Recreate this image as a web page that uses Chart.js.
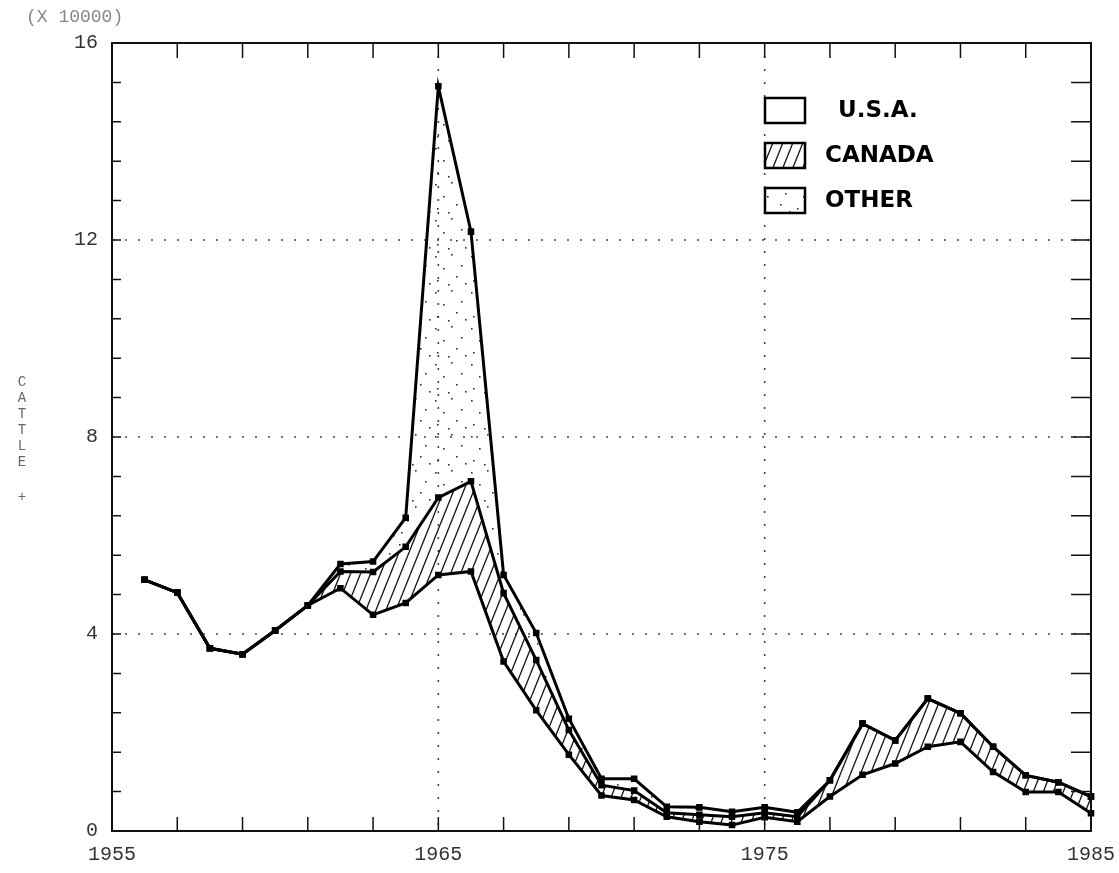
<!DOCTYPE html>
<html>
<head>
<meta charset="utf-8">
<script src="https://cdn.jsdelivr.net/npm/chart.js@4.4.1/dist/chart.umd.min.js"></script>
<style>
  html, body { margin: 0; padding: 0; background: #fff; }
</style>
</head>
<body>
<canvas id="chart" width="1119" height="873"></canvas>
<script>
// values in units of 10000 head
const years  = [1956, 1957, 1958, 1959, 1960, 1961, 1962, 1963, 1964, 1965,
                1966, 1967, 1968, 1969, 1970, 1971, 1972, 1973, 1974, 1975,
                1976, 1977, 1978, 1979, 1980, 1981, 1982, 1983, 1984, 1985];
const usa    = [5.10, 4.84, 3.71, 3.59, 4.07, 4.58, 4.93, 4.39, 4.63, 5.20,
                5.27, 3.44, 2.45, 1.55, 0.72, 0.63, 0.29, 0.19, 0.12, 0.28,
                0.19, 0.70, 1.14, 1.37, 1.71, 1.81, 1.20, 0.79, 0.79, 0.36];
const canada = [0, 0, 0, 0, 0, 0, 0.34, 0.87, 1.14, 1.57,
                1.83, 1.39, 1.02, 0.50, 0.21, 0.19, 0.08, 0.14, 0.17, 0.09,
                0.10, 0.33, 1.04, 0.47, 0.98, 0.58, 0.51, 0.34, 0.20, 0.34];
const other  = [0, 0, 0, 0, 0, 0, 0.15, 0.21, 0.59, 8.35,
                5.07, 0.37, 0.55, 0.23, 0.13, 0.24, 0.12, 0.15, 0.10, 0.11,
                0.09, 0, 0, 0, 0, 0, 0, 0, 0, 0];

const legendNames = ["U.S.A.", "CANADA", "OTHER"];
const yTitle = "CATTLE";
const unitNote = "(X 10000)";

// fill patterns
function hatchPattern() {
  const c = document.createElement("canvas");
  c.width = 10; c.height = 25;
  const g = c.getContext("2d");
  g.strokeStyle = "#111";
  g.lineWidth = 1.3;
  for (let k = -1; k <= 1; k++) {
    g.beginPath();
    g.moveTo(k * 10, 25);
    g.lineTo(k * 10 + 10, 0);
    g.stroke();
  }
  return g.createPattern(c, "repeat");
}
function dotPattern() {
  const c = document.createElement("canvas");
  c.width = 36; c.height = 36;
  const g = c.getContext("2d");
  g.fillStyle = "#333";
  const dots = [[3, 4], [19, 2], [29, 13], [11, 16], [24, 24], [5, 28], [16, 32], [33, 31]];
  dots.forEach(([dx, dy]) => g.fillRect(dx, dy, 1.6, 1.6));
  return g.createPattern(c, "repeat");
}
const hatch = hatchPattern();
const dots = dotPattern();

const toPts = arr => arr.map((v, i) => ({ x: years[i], y: v }));

const lineStyle = {
  borderColor: "#000",
  borderWidth: 3,
  pointStyle: "rect",
  pointRadius: 2.5,
  pointBackgroundColor: "#000",
  pointBorderColor: "#000",
  tension: 0,
  clip: false
};

const decor = {
  id: "decor",
  beforeDatasetsDraw(chart) {
    const { ctx, chartArea: a, scales: { x, y } } = chart;
    ctx.save();
    ctx.strokeStyle = "#444";
    ctx.lineWidth = 1.6;
    ctx.setLineDash([2, 11]);
    [1965, 1975].forEach(v => {
      const px = x.getPixelForValue(v);
      ctx.beginPath(); ctx.moveTo(px, a.top); ctx.lineTo(px, a.bottom); ctx.stroke();
    });
    [4, 8, 12].forEach(v => {
      const py = y.getPixelForValue(v);
      ctx.beginPath(); ctx.moveTo(a.left, py); ctx.lineTo(a.right, py); ctx.stroke();
    });
    ctx.restore();
  },
  afterDraw(chart) {
    const { ctx, chartArea: a, scales: { x, y } } = chart;
    ctx.save();
    ctx.strokeStyle = "#111";
    ctx.lineWidth = 2;
    ctx.strokeRect(a.left, a.top, a.right - a.left, a.bottom - a.top);

    ctx.lineWidth = 1.5;
    ctx.beginPath();
    for (let v = 1955; v <= 1985; v += 2) {
      const px = x.getPixelForValue(v);
      ctx.moveTo(px, a.bottom); ctx.lineTo(px, a.bottom - 14);
      ctx.moveTo(px, a.top); ctx.lineTo(px, a.top + 15);
    }
    for (let k = 0; k <= 20; k++) {
      const py = y.getPixelForValue(k * 0.8);
      ctx.moveTo(a.left, py); ctx.lineTo(a.left + 9, py);
      ctx.moveTo(a.right, py); ctx.lineTo(a.right - 20, py);
    }
    ctx.stroke();

    // unit note and stacked axis title
    ctx.fillStyle = "#888";
    ctx.font = "18px 'Liberation Mono'";
    ctx.textAlign = "left";
    ctx.textBaseline = "middle";
    ctx.fillText(unitNote, 26, 17);

    ctx.fillStyle = "#666";
    ctx.font = "14px 'Liberation Mono'";
    ctx.textAlign = "center";
    [...yTitle].forEach((ch, i) => ctx.fillText(ch, 22, 382 + i * 16));
    ctx.fillText("+", 22, 497);

    // legend
    const fills = ["#fff", hatch, dots];
    const boxY = [98, 143, 188];
    ctx.font = "bold 23px 'DejaVu Sans'";
    ctx.textAlign = "left";
    legendNames.forEach((name, i) => {
      ctx.fillStyle = fills[i];
      ctx.fillRect(765, boxY[i], 40, 25);
      ctx.strokeStyle = "#000";
      ctx.lineWidth = 2.5;
      ctx.strokeRect(765, boxY[i], 40, 25);
      ctx.fillStyle = "#000";
      ctx.fillText(name, i === 0 ? 838 : 825, boxY[i] + 13);
    });
    ctx.restore();
  }
};

new Chart(document.getElementById("chart"), {
  type: "line",
  data: {
    datasets: [
      { label: legendNames[0], data: toPts(usa), fill: false, ...lineStyle },
      { label: legendNames[1], data: toPts(canada), fill: "-1", backgroundColor: hatch, ...lineStyle },
      { label: legendNames[2], data: toPts(other), fill: "-1", backgroundColor: dots, ...lineStyle }
    ]
  },
  options: {
    responsive: false,
    animation: false,
    devicePixelRatio: 1,
    layout: { padding: { left: 0, top: 43, right: 27, bottom: 0 } },
    plugins: { legend: { display: false }, tooltip: { enabled: false } },
    scales: {
      x: {
        type: "linear",
        min: 1955, max: 1985,
        afterFit: s => { s.height = 42; },
        grid: { display: false },
        border: { display: false },
        ticks: {
          stepSize: 10,
          autoSkip: false,
          maxRotation: 0,
          padding: 4,
          color: "#333",
          font: { family: "'Liberation Mono'", size: 20 },
          callback: v => String(v)
        }
      },
      y: {
        stacked: true,
        min: 0, max: 16,
        afterFit: s => { s.width = 112; },
        grid: { display: false },
        border: { display: false },
        ticks: {
          stepSize: 4,
          padding: 6,
          color: "#333",
          font: { family: "'Liberation Mono'", size: 20 },
          callback: v => String(v)
        }
      }
    }
  },
  plugins: [decor]
});
</script>
</body>
</html>
